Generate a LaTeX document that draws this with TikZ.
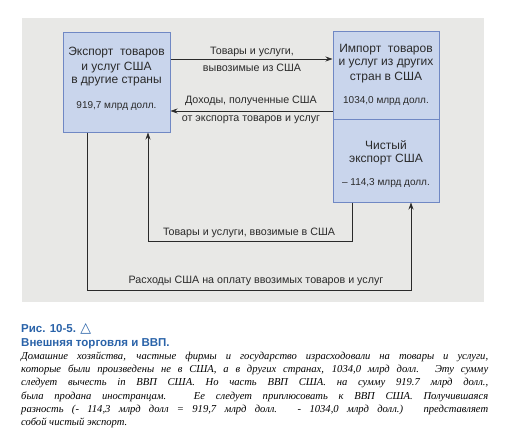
\documentclass[tikz,border=0pt]{standalone}
\usepackage{fontspec}
\setmainfont{Liberation Serif}
\setsansfont{Liberation Sans}
\newfontfamily\symfont{DejaVu Sans}
\usetikzlibrary{arrows.meta,calc}
\definecolor{scanbg}{HTML}{E8E8E6}
\definecolor{boxfill}{HTML}{C9D5EC}
\definecolor{boxline}{HTML}{7088C4}
\definecolor{capblue}{HTML}{2A63A9}
\definecolor{ink}{HTML}{2A2A2A}
\tikzset{
  boxst/.style={draw=boxline,line width=1pt,fill=boxfill,inner sep=0pt},
  boxtxt/.style={font=\sffamily\fontsize{12}{14}\selectfont,text=ink,inner sep=0pt},
  numtxt/.style={font=\sffamily\fontsize{10}{12}\selectfont,text=ink,inner sep=0pt},
  lbl/.style={font=\sffamily\fontsize{10.7}{12}\selectfont,text=ink,inner sep=0pt},
  arr/.style={draw=ink,line width=0.8pt,-{Stealth[length=7pt,width=5pt]}},
  captitle/.style={anchor=west,inner sep=0pt,font=\sffamily\bfseries\fontsize{11.5}{13}\selectfont,text=capblue}
}
\begin{document}
\begin{tikzpicture}[x=1pt,y=-1pt]
\useasboundingbox (0,0) rectangle (508,441);
\fill[white] (0,0) rectangle (508,441);
\fill[scanbg] (22,18) rectangle (484,302);
% boxes
\node[boxst,minimum width=107pt,minimum height=99pt] (exp) at (116.5,82.5) {};
\node[boxst,minimum width=106pt,minimum height=87pt] (imp) at (386,75.5) {};
\node[boxst,minimum width=106pt,minimum height=83pt] (net) at (386,160.5) {};
% box texts
\node[boxtxt] (e1) at (116.5,53) {Экспорт\ \ товаров};
\node[boxtxt] (e2) at (116.5,68) {и услуг США};
\node[boxtxt] (e3) at (116.5,82) {в другие страны};
\node[numtxt] (e4) at (116.5,106) {919,7 млрд долл.};
\node[boxtxt] (i1t) at (386,50) {Импорт\ \ товаров};
\node[boxtxt] (i2t) at (386,64) {и услуг из других};
\node[boxtxt] (i3t) at (386,78) {стран в США};
\node[numtxt] (i4t) at (386,101) {1034,0 млрд долл.};
\node[boxtxt] (n1) at (386,145) {Чистый};
\node[boxtxt] (n2) at (386,160) {экспорт США};
\node[numtxt] (n3) at (386,183) {– 114,3 млрд долл.};
% top arrows
\coordinate (ya) at (0,59);
\coordinate (yb) at (0,111);
\draw[arr] (exp.east |- ya) -- (imp.west |- ya);
\draw[arr] (imp.west |- yb) -- (exp.east |- yb);
\node[lbl] (la1) at (252,52) {Товары и услуги,};
\node[lbl] (la2) at (252,67.5) {вывозимые из США};
\node[lbl] (lb1) at (251,101) {Доходы, полученные США};
\node[lbl] (lb2) at (251,120) {от экспорта товаров и услуг};
% bottom loops
\coordinate (c1) at (352,241);
\coordinate (c2) at (148,241);
\draw[arr] (net.south -| c1) -- (c1) -- (c2) -- (exp.south -| c2);
\coordinate (o1) at (87,290);
\coordinate (o2) at (411,290);
\draw[arr] (exp.south -| o1) -- (o1) -- (o2) -- (net.south -| o2);
\node[lbl] (lc) at (249,233) {Товары и услуги, ввозимые в США};
\node[lbl] (ld) at (256,281) {Расходы США на оплату ввозимых товаров и услуг};
% caption
\node[captitle] (cap1) at (21,329) {Рис. 10-5. {\symfont\bfseries\fontsize{14}{14}\selectfont △}};
\node[captitle] (cap2) at (21,343.5) {Внешняя торговля и ВВП.};
\node[anchor=north west,inner sep=0pt,text width=467pt,align=justify,font=\itshape\fontsize{10.6}{13.3}\selectfont,text=black] (body) at (21,351.5) {Домашние хозяйства, частные фирмы и государство израсходовали на товары и услуги,\linebreak которые были произведены не в США, а в других странах, 1034,0 млрд долл. Эту сумму\linebreak следует вычесть in ВВП США. Но часть ВВП США. на сумму 919.7 млрд долл.,\linebreak была продана иностранцам. Ее следует приплюсовать к ВВП США. Получившаяся\linebreak разность (- 114,3 млрд долл = 919,7 млрд долл. - 1034,0 млрд долл.) представляет\linebreak собой чистый экспорт.};
\end{tikzpicture}
\end{document}
